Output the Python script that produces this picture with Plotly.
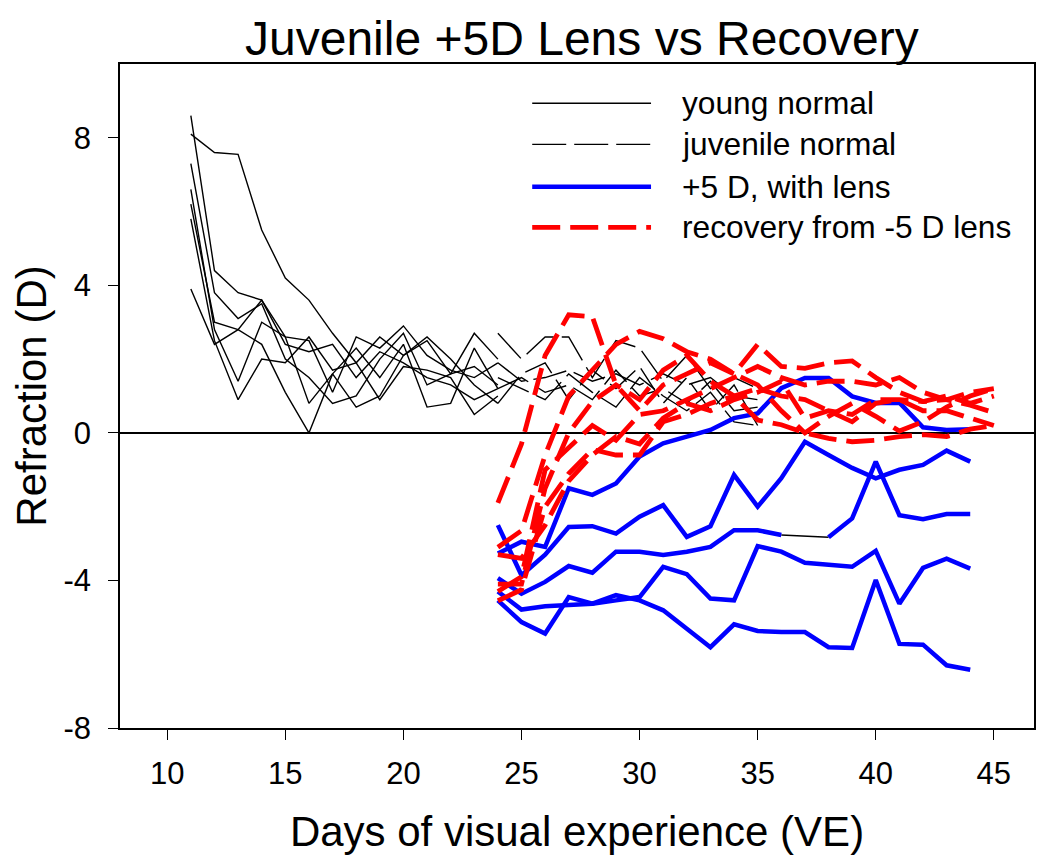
import plotly.graph_objects as go

# ---------------- data ----------------
days_young = list(range(11, 25))
young_normal = [
    [8.1, 7.6, 7.55, 5.5, 4.2, 3.6, 2.7, 1.9, 2.6, 2.1, 2.5, 1.6, 1.8, 1.3],
    [8.6, 4.4, 3.8, 3.6, 2.6, 2.5, 1.1, 2.6, 2.3, 2.9, 2.1, 1.7, 1.5, 1.9],
    [7.3, 3.8, 3.1, 3.5, 2.0, 1.5, 0.8, 1.0, 2.0, 2.7, 1.3, 1.6, 2.7, 2.0],
    [6.6, 2.8, 1.4, 3.0, 2.6, 0.8, 1.6, 2.3, 1.5, 2.4, 0.7, 0.8, 2.3, 1.2],
    [6.2, 3.0, 2.8, 2.4, 1.1, 0.0, 1.6, 0.7, 1.0, 2.1, 2.6, 2.0, 1.3, 0.8],
    [5.8, 2.5, 0.9, 2.0, 1.9, 2.6, 1.7, 1.9, 0.9, 1.8, 1.7, 1.5, 0.5, 1.0],
    [3.9, 2.4, 2.8, 3.6, 2.4, 2.2, 2.4, 1.5, 2.2, 1.9, 1.5, 1.3, 0.9, 1.2],
]

days_juvenile = list(range(24, 36))
juvenile_normal = [
    [2.7, 2.0, 2.6, 2.6, 1.5, 2.5, 2.3, 1.4, 2.1, 1.2, 1.5, 1.2],
    [1.9, 1.4, 1.5, 1.7, 1.4, 1.6, 1.3, 1.6, 1.3, 1.5, 1.0, 0.9],
    [1.2, 1.5, 1.1, 1.3, 0.9, 1.7, 1.0, 1.2, 0.8, 1.4, 0.6, 0.7],
    [0.8, 1.6, 1.9, 0.9, 1.7, 1.2, 1.8, 0.8, 1.5, 0.6, 1.3, 0.2],
    [1.5, 1.2, 0.9, 1.6, 1.1, 0.7, 1.5, 1.0, 0.6, 1.1, 0.3, 0.2],
]

days_lens = list(range(24, 45))
plus5_with_lens = [
    [-3.27, -2.95, -3.09, -1.5, -1.68, -1.37, -0.64, -0.28, -0.1, 0.08, 0.4,
     0.53, 1.21, 1.49, 1.49, 0.99, 0.81, 0.82, 0.15, 0.08, 0.1],
    [-2.5, -3.86, -3.3, -2.55, -2.53, -2.73, -2.27, -1.96, -2.82, -2.53, -1.14,
     -2.0, -1.23, -0.24, -0.6, -0.95, -1.23, -1.0, -0.87, -0.48, -0.78],
    [-3.94, -4.36, -4.04, -3.61, -3.79, -3.22, -3.22, -3.31, -3.22, -3.09, -2.64,
     -2.64, -2.77, None, -2.83, -2.32, -0.78, -2.23, -2.34, -2.2, -2.2],
    [-4.3, -4.79, -4.7, -4.67, -4.63, -4.54, -4.45, -3.63, -3.83, -4.49, -4.54,
     -3.07, -3.22, -3.52, -3.59, -3.63, -3.2, -4.63, -3.66, -3.41, -3.68],
    [-4.54, -5.13, -5.44, -4.45, -4.63, -4.4, -4.54, -4.81, -5.31, -5.81, -5.19,
     -5.37, -5.4, -5.4, -5.81, -5.83, -3.99, -5.72, -5.74, -6.3, -6.42],
]

days_recovery = list(range(24, 46))
recovery = [
    [-1.9, -0.3, 2.1, 3.2, 3.15, 1.3, 0.6, 1.3, 1.6, 1.9, 1.6, 2.4, 1.8, 1.75,
     1.9, 1.95, 1.5, 1.1, 0.85, 0.9, 1.1, 1.2],
    [-3.1, -2.65, -0.6, 1.0, 1.7, 2.4, 2.75, 2.55, 2.2, 2.0, 1.6, 1.3, 0.6, 0.0,
     0.45, 0.8, 0.45, 0.05, 0.3, 0.7, 1.0, 1.2],
    [-4.1, -4.1, -1.5, 0.0, 0.85, 1.3, 0.9, 1.7, 2.1, 1.4, 1.0, 0.35, 0.22, 0.0,
     -0.15, -0.24, -0.2, -0.1, -0.05, -0.1, 0.1, 0.2],
    [-4.3, -3.9, -1.0, -0.4, 0.2, -0.2, 0.5, 0.6, 0.9, 1.2, 1.5, 1.8, 1.5, 1.3,
     1.4, 1.4, 1.3, 1.5, 1.1, 0.9, 0.75, 0.55],
    [-4.55, -4.25, -2.0, -1.1, -0.45, -0.6, -0.6, 0.3, 0.5, 0.8, 1.0, 1.2, 1.0,
     0.9, 0.6, 0.3, 0.8, 0.9, 0.6, 0.6, 0.4, 0.2],
    [-3.3, -3.4, -2.5, -1.3, -0.6, -0.1, -0.3, 0.4, 0.8, 0.6, 0.9, 1.1, 1.4, 0.4,
     0.6, 0.5, 0.9, 0.9, 0.85, 1.0, 0.8, 1.0],
]

legend_labels = ["young normal", "juvenile normal", "+5 D, with lens",
                 "recovery from -5 D lens"]
x_ticks = [10, 15, 20, 25, 30, 35, 40, 45]
y_ticks = [-8, -4, 0, 4, 8]

# ---------------- styles ----------------
FONT = "Liberation Sans, Arial, sans-serif"
BLACK_W = 1.4
JUV_DASH = "34px,8px"
BLUE = "#0000ff"
RED = "#ff0000"
RED_DASH = "28px,10px"
BLUE_W = 4.5
RED_W = 4.8

fig = go.Figure()

for ys in young_normal:
    fig.add_trace(go.Scatter(x=days_young, y=ys, mode="lines",
                             line=dict(color="black", width=BLACK_W),
                             showlegend=False, hoverinfo="skip"))

for ys in juvenile_normal:
    fig.add_trace(go.Scatter(x=days_juvenile, y=ys, mode="lines",
                             line=dict(color="black", width=BLACK_W, dash=JUV_DASH),
                             showlegend=False, hoverinfo="skip"))

# thin black connector across missing values of the lens series
for ys in plus5_with_lens:
    for i, v in enumerate(ys):
        if v is None and 0 < i < len(ys) - 1:
            fig.add_trace(go.Scatter(x=[days_lens[i - 1], days_lens[i + 1]],
                                     y=[ys[i - 1], ys[i + 1]], mode="lines",
                                     line=dict(color="black", width=1.5),
                                     showlegend=False, hoverinfo="skip"))

for ys in plus5_with_lens:
    fig.add_trace(go.Scatter(x=days_lens, y=ys, mode="lines",
                             line=dict(color=BLUE, width=BLUE_W),
                             connectgaps=False,
                             showlegend=False, hoverinfo="skip"))

for ys in recovery:
    fig.add_trace(go.Scatter(x=days_recovery, y=ys, mode="lines",
                             line=dict(color=RED, width=RED_W, dash=RED_DASH),
                             showlegend=False, hoverinfo="skip"))

# ---------------- manual legend ----------------
leg_styles = [
    dict(color="black", width=BLACK_W),
    dict(color="black", width=BLACK_W, dash=JUV_DASH),
    dict(color=BLUE, width=BLUE_W),
    dict(color=RED, width=RED_W, dash=RED_DASH),
]
leg_y = [0.941, 0.879, 0.815, 0.754]
shapes = []
annotations = []
for lab, st, yy in zip(legend_labels, leg_styles, leg_y):
    shapes.append(dict(type="line", xref="paper", yref="paper",
                       x0=0.451, x1=0.581, y0=yy, y1=yy, line=st))
    annotations.append(dict(text=lab, xref="paper", yref="paper",
                            x=0.613, y=yy, xanchor="left", yanchor="middle",
                            showarrow=False,
                            font=dict(family=FONT, size=31.7, color="black")))

fig.update_layout(
    width=1034, height=849,
    margin=dict(l=111, r=6, t=56, b=129),
    paper_bgcolor="white", plot_bgcolor="white",
    title=dict(text="Juvenile +5D Lens vs Recovery", x=0.555, xanchor="center",
               y=0.9647, yanchor="middle",
               font=dict(family=FONT, size=48, color="black")),
    font=dict(family=FONT, color="black"),
    shapes=shapes, annotations=annotations,
    showlegend=False,
)
fig.update_xaxes(range=[8, 46.7], tickvals=x_ticks,
                 ticktext=[str(v) for v in x_ticks],
                 ticks="outside", ticklen=10,
                 tickwidth=1.3, tickcolor="black",
                 showline=True, linecolor="black", linewidth=1.5, mirror=True,
                 showgrid=False, zeroline=False,
                 ticklabelstandoff=7,
                 tickfont=dict(family=FONT, size=31),
                 title=dict(text="Days of visual experience (VE)",
                            font=dict(family=FONT, size=42), standoff=27))
fig.update_yaxes(range=[-8, 10], tickvals=y_ticks,
                 ticktext=[str(v) for v in y_ticks],
                 ticks="outside", ticklen=10,
                 tickwidth=1.3, tickcolor="black",
                 showline=True, linecolor="black", linewidth=1.5, mirror=True,
                 showgrid=False, zeroline=True, zerolinecolor="black",
                 zerolinewidth=1.5,
                 ticklabelstandoff=11,
                 tickfont=dict(family=FONT, size=31),
                 title=dict(text="Refraction (D)",
                            font=dict(family=FONT, size=42), standoff=20))

fig.write_html("out.html")
